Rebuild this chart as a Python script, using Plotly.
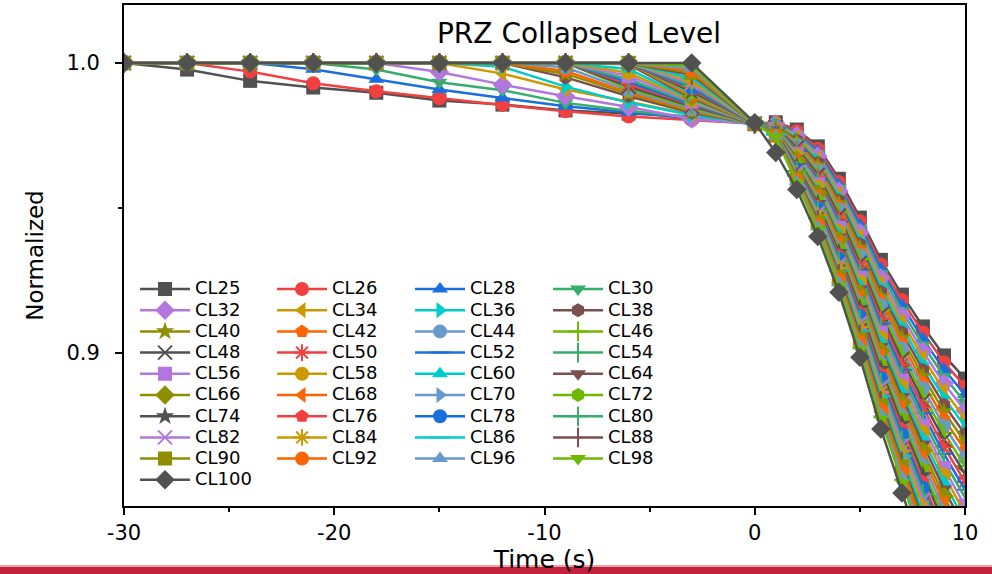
import plotly.graph_objects as go

# Sample times (s): 3 s steps before the event, 1 s steps after it
time_s = [-30, -27, -24, -21, -18, -15, -12, -9, -6, -3, 0, 1, 2, 3, 4, 5, 6, 7, 8, 9, 10]

labels = ["CL25", "CL26", "CL28", "CL30", "CL32", "CL34", "CL36", "CL38", "CL40", "CL42",
          "CL44", "CL46", "CL48", "CL50", "CL52", "CL54", "CL56", "CL58", "CL60", "CL64",
          "CL66", "CL68", "CL70", "CL72", "CL74", "CL76", "CL78", "CL80", "CL82", "CL84",
          "CL86", "CL88", "CL90", "CL92", "CL96", "CL98", "CL100"]

# Normalized collapsed level, one list per case
cl25 = [1.0, 0.9977, 0.9938, 0.9915, 0.9897, 0.9870, 0.9856, 0.9836, 0.9825, 0.9815, 0.9790,
        0.9795, 0.9770, 0.9712, 0.9600, 0.9466, 0.9320, 0.9200, 0.9090, 0.8990, 0.8910]
cl26 = [1.0, 1.0, 0.9970, 0.9930, 0.9902, 0.9878, 0.9855, 0.9833, 0.9815, 0.9803, 0.9790,
        0.9794, 0.9765, 0.9704, 0.9589, 0.9453, 0.9304, 0.9181, 0.9069, 0.8966, 0.8883]
cl28 = [1.0, 1.0, 1.0, 0.9978, 0.9944, 0.9908, 0.9879, 0.9850, 0.9830, 0.9808, 0.9790,
        0.9792, 0.9759, 0.9696, 0.9579, 0.9440, 0.9289, 0.9163, 0.9047, 0.8941, 0.8855]
cl30 = [1.0, 1.0, 1.0, 1.0, 0.9977, 0.9933, 0.9906, 0.9862, 0.9835, 0.9812, 0.9790,
        0.9791, 0.9754, 0.9687, 0.9568, 0.9427, 0.9273, 0.9144, 0.9026, 0.8917, 0.8828]
cl32 = [1.0, 1.0, 1.0, 1.0, 1.0, 0.9969, 0.9925, 0.9885, 0.9848, 0.9806, 0.9790,
        0.9789, 0.9749, 0.9679, 0.9558, 0.9414, 0.9257, 0.9126, 0.9004, 0.8893, 0.8800]
cl34 = [1.0, 1.0, 1.0, 1.0, 1.0, 1.0, 0.9963, 0.9908, 0.9866, 0.9822, 0.9790,
        0.9788, 0.9744, 0.9671, 0.9547, 0.9401, 0.9241, 0.9107, 0.8983, 0.8869, 0.8773]
cl36 = [1.0, 1.0, 1.0, 1.0, 1.0, 1.0, 0.9987, 0.9918, 0.9863, 0.9820, 0.9790,
        0.9786, 0.9738, 0.9663, 0.9537, 0.9388, 0.9226, 0.9089, 0.8961, 0.8844, 0.8745]
cl38 = [1.0, 1.0, 1.0, 1.0, 1.0, 1.0, 1.0, 0.9950, 0.9885, 0.9828, 0.9790,
        0.9785, 0.9733, 0.9655, 0.9526, 0.9375, 0.9210, 0.9070, 0.8940, 0.8820, 0.8718]
cl40 = [1.0, 1.0, 1.0, 1.0, 1.0, 1.0, 1.0, 0.9962, 0.9893, 0.9832, 0.9790,
        0.9784, 0.9728, 0.9646, 0.9515, 0.9362, 0.9194, 0.9051, 0.8919, 0.8796, 0.8691]
cl42 = [1.0, 1.0, 1.0, 1.0, 1.0, 1.0, 1.0, 0.9972, 0.9898, 0.9836, 0.9790,
        0.9782, 0.9722, 0.9638, 0.9505, 0.9349, 0.9179, 0.9033, 0.8897, 0.8771, 0.8663]
cl44 = [1.0, 1.0, 1.0, 1.0, 1.0, 1.0, 1.0, 0.9985, 0.9905, 0.9840, 0.9790,
        0.9781, 0.9717, 0.9630, 0.9494, 0.9336, 0.9163, 0.9014, 0.8876, 0.8747, 0.8636]
cl46 = [1.0, 1.0, 1.0, 1.0, 1.0, 1.0, 1.0, 1.0, 0.9912, 0.9845, 0.9790,
        0.9779, 0.9712, 0.9622, 0.9484, 0.9323, 0.9147, 0.8996, 0.8854, 0.8723, 0.8608]
cl48 = [1.0, 1.0, 1.0, 1.0, 1.0, 1.0, 1.0, 1.0, 0.9918, 0.9850, 0.9790,
        0.9778, 0.9707, 0.9614, 0.9473, 0.9310, 0.9131, 0.8977, 0.8833, 0.8699, 0.8581]
cl50 = [1.0, 1.0, 1.0, 1.0, 1.0, 1.0, 1.0, 1.0, 0.9926, 0.9855, 0.9790,
        0.9776, 0.9701, 0.9605, 0.9463, 0.9297, 0.9116, 0.8959, 0.8811, 0.8674, 0.8553]
cl52 = [1.0, 1.0, 1.0, 1.0, 1.0, 1.0, 1.0, 1.0, 0.9934, 0.9858, 0.9790,
        0.9775, 0.9696, 0.9597, 0.9452, 0.9284, 0.9100, 0.8940, 0.8790, 0.8650, 0.8526]
cl54 = [1.0, 1.0, 1.0, 1.0, 1.0, 1.0, 1.0, 1.0, 0.9943, 0.9862, 0.9790,
        0.9774, 0.9691, 0.9589, 0.9441, 0.9271, 0.9084, 0.8921, 0.8769, 0.8626, 0.8499]
cl56 = [1.0, 1.0, 1.0, 1.0, 1.0, 1.0, 1.0, 1.0, 0.9955, 0.9866, 0.9790,
        0.9772, 0.9685, 0.9581, 0.9431, 0.9258, 0.9069, 0.8903, 0.8747, 0.8601, 0.8471]
cl58 = [1.0, 1.0, 1.0, 1.0, 1.0, 1.0, 1.0, 1.0, 0.9966, 0.9870, 0.9790,
        0.9771, 0.9680, 0.9573, 0.9420, 0.9245, 0.9053, 0.8884, 0.8726, 0.8577, 0.8444]
cl60 = [1.0, 1.0, 1.0, 1.0, 1.0, 1.0, 1.0, 1.0, 0.9979, 0.9874, 0.9790,
        0.9769, 0.9675, 0.9564, 0.9410, 0.9232, 0.9037, 0.8866, 0.8704, 0.8553, 0.8416]
cl64 = [1.0, 1.0, 1.0, 1.0, 1.0, 1.0, 1.0, 1.0, 0.9995, 0.9878, 0.9790,
        0.9768, 0.9670, 0.9556, 0.9399, 0.9219, 0.9021, 0.8847, 0.8683, 0.8529, 0.8389]
cl66 = [1.0, 1.0, 1.0, 1.0, 1.0, 1.0, 1.0, 1.0, 1.0, 0.9882, 0.9790,
        0.9766, 0.9664, 0.9548, 0.9389, 0.9205, 0.9006, 0.8829, 0.8661, 0.8504, 0.8361]
cl68 = [1.0, 1.0, 1.0, 1.0, 1.0, 1.0, 1.0, 1.0, 1.0, 0.9887, 0.9790,
        0.9765, 0.9659, 0.9540, 0.9378, 0.9192, 0.8990, 0.8810, 0.8640, 0.8480, 0.8334]
cl70 = [1.0, 1.0, 1.0, 1.0, 1.0, 1.0, 1.0, 1.0, 1.0, 0.9892, 0.9790,
        0.9764, 0.9654, 0.9532, 0.9367, 0.9179, 0.8974, 0.8791, 0.8619, 0.8456, 0.8307]
cl72 = [1.0, 1.0, 1.0, 1.0, 1.0, 1.0, 1.0, 1.0, 1.0, 0.9897, 0.9790,
        0.9762, 0.9648, 0.9523, 0.9357, 0.9166, 0.8959, 0.8773, 0.8597, 0.8431, 0.8279]
cl74 = [1.0, 1.0, 1.0, 1.0, 1.0, 1.0, 1.0, 1.0, 1.0, 0.9902, 0.9790,
        0.9761, 0.9643, 0.9515, 0.9346, 0.9153, 0.8943, 0.8754, 0.8576, 0.8407, 0.8252]
cl76 = [1.0, 1.0, 1.0, 1.0, 1.0, 1.0, 1.0, 1.0, 1.0, 0.9908, 0.9790,
        0.9759, 0.9638, 0.9507, 0.9336, 0.9140, 0.8927, 0.8736, 0.8554, 0.8383, 0.8224]
cl78 = [1.0, 1.0, 1.0, 1.0, 1.0, 1.0, 1.0, 1.0, 1.0, 0.9914, 0.9790,
        0.9758, 0.9633, 0.9499, 0.9325, 0.9127, 0.8911, 0.8717, 0.8533, 0.8359, 0.8197]
cl80 = [1.0, 1.0, 1.0, 1.0, 1.0, 1.0, 1.0, 1.0, 1.0, 0.9921, 0.9790,
        0.9756, 0.9627, 0.9491, 0.9315, 0.9114, 0.8896, 0.8699, 0.8511, 0.8334, 0.8169]
cl82 = [1.0, 1.0, 1.0, 1.0, 1.0, 1.0, 1.0, 1.0, 1.0, 0.9929, 0.9790,
        0.9755, 0.9622, 0.9482, 0.9304, 0.9101, 0.8880, 0.8680, 0.8490, 0.8310, 0.8142]
cl84 = [1.0, 1.0, 1.0, 1.0, 1.0, 1.0, 1.0, 1.0, 1.0, 0.9937, 0.9790,
        0.9754, 0.9617, 0.9474, 0.9293, 0.9088, 0.8864, 0.8661, 0.8469, 0.8286, 0.8115]
cl86 = [1.0, 1.0, 1.0, 1.0, 1.0, 1.0, 1.0, 1.0, 1.0, 0.9947, 0.9790,
        0.9752, 0.9611, 0.9466, 0.9283, 0.9075, 0.8849, 0.8643, 0.8447, 0.8261, 0.8087]
cl88 = [1.0, 1.0, 1.0, 1.0, 1.0, 1.0, 1.0, 1.0, 1.0, 0.9958, 0.9790,
        0.9751, 0.9606, 0.9458, 0.9272, 0.9062, 0.8833, 0.8624, 0.8426, 0.8237, 0.8060]
cl90 = [1.0, 1.0, 1.0, 1.0, 1.0, 1.0, 1.0, 1.0, 1.0, 0.9966, 0.9790,
        0.9749, 0.9601, 0.9450, 0.9262, 0.9049, 0.8817, 0.8606, 0.8404, 0.8213, 0.8032]
cl92 = [1.0, 1.0, 1.0, 1.0, 1.0, 1.0, 1.0, 1.0, 1.0, 0.9974, 0.9790,
        0.9748, 0.9596, 0.9441, 0.9251, 0.9036, 0.8801, 0.8587, 0.8383, 0.8189, 0.8005]
cl96 = [1.0, 1.0, 1.0, 1.0, 1.0, 1.0, 1.0, 1.0, 1.0, 0.9982, 0.9790,
        0.9746, 0.9590, 0.9433, 0.9241, 0.9023, 0.8786, 0.8569, 0.8361, 0.8164, 0.7977]
cl98 = [1.0, 1.0, 1.0, 1.0, 1.0, 1.0, 1.0, 1.0, 1.0, 0.9990, 0.9790,
        0.9745, 0.9585, 0.9425, 0.9230, 0.9010, 0.8770, 0.8550, 0.8340, 0.8140, 0.7950]
cl100 = [1.0, 1.0, 1.0, 1.0, 1.0, 1.0, 1.0, 1.0, 1.0, 1.0, 0.9793,
         0.9691, 0.9563, 0.9401, 0.9208, 0.8984, 0.8736, 0.8515, 0.8300, 0.8100, 0.7900]

levels = [cl25, cl26, cl28, cl30, cl32, cl34, cl36, cl38, cl40, cl42,
          cl44, cl46, cl48, cl50, cl52, cl54, cl56, cl58, cl60, cl64,
          cl66, cl68, cl70, cl72, cl74, cl76, cl78, cl80, cl82, cl84,
          cl86, cl88, cl90, cl92, cl96, cl98, cl100]

x_ticks = [-30, -20, -10, 0, 10]
x_tick_text = ["-30", "-20", "-10", "0", "10"]
x_minor = [-25, -15, -5, 5]
y_ticks = [0.9, 1.0]
y_minor = [0.95]

# Colour and symbol cycles
palette = ["#515151", "#F14040", "#1A6FDF", "#37AD6B", "#B177DE", "#CC9900",
           "#00CBCC", "#7D4E4E", "#8E8E00", "#FB6501", "#6699CC", "#6FB802"]
symbol_cycle = ["square", "circle", "triangle-up", "triangle-down", "diamond",
                "triangle-left", "triangle-right", "hexagon", "star", "pentagon",
                "circle", "cross-thin", "x-thin", "asterisk", "line-ew", "line-ns"]
thin_symbols = {"cross-thin", "x-thin", "asterisk", "line-ew", "line-ns"}

legend_ids = ["legend", "legend2", "legend3", "legend4"]
legend_x = [0.0131, 0.1760, 0.3401, 0.5042]

fig = go.Figure()
for i, (label, values) in enumerate(zip(labels, levels)):
    color = palette[i % len(palette)]
    symbol = symbol_cycle[i % len(symbol_cycle)]
    thin = symbol in thin_symbols
    size = 15 if symbol == "diamond" else 14
    fig.add_trace(go.Scatter(
        x=time_s, y=values, mode="lines+markers",
        name='<span style="font-size:18px">%s</span>' % label,
        legend=legend_ids[i % 4],
        line=dict(color=color, width=2.5),
        marker=dict(symbol=symbol, size=size, color=color,
                    line=dict(color=color, width=2 if thin else 0)),
    ))

axis_common = dict(
    showline=True, linecolor="black", linewidth=2, mirror=True,
    ticks="outside", ticklen=7, tickwidth=2, tickcolor="black",
    showgrid=False, zeroline=False,
    tickfont=dict(family="DejaVu Sans", size=21, color="black"),
)

fig.update_xaxes(
    range=[-30, 10], tickvals=x_ticks, ticktext=x_tick_text,
    minor=dict(tickvals=x_minor, ticks="outside", ticklen=4, tickwidth=2, tickcolor="black"),
    title=dict(text="Time (s)", font=dict(family="DejaVu Sans", size=25, color="black"), standoff=13),
    **axis_common,
)
fig.update_yaxes(
    range=[0.847, 1.020], tickvals=y_ticks, tickformat=".1f", ticklabelstandoff=11,
    minor=dict(tickvals=y_minor, ticks="outside", ticklen=4, tickwidth=2, tickcolor="black"),
    title=dict(text="Normalized", font=dict(family="DejaVu Sans", size=23, color="black"), standoff=16),
    **axis_common,
)

legend_style = dict(
    y=0.4643, yanchor="top", xanchor="left", orientation="v",
    bgcolor="rgba(0,0,0,0)", borderwidth=0, itemwidth=50, tracegroupgap=0,
    font=dict(family="DejaVu Sans", size=14, color="black"),
)
layout_legends = {lid: dict(x=lx, **legend_style) for lid, lx in zip(legend_ids, legend_x)}

fig.update_layout(
    width=992, height=574,
    margin=dict(l=124, r=27, t=5, b=68, autoexpand=False),
    paper_bgcolor="white", plot_bgcolor="white",
    font=dict(family="DejaVu Sans", color="black"),
    title=dict(text="PRZ Collapsed Level", x=0.541, xref="paper", xanchor="center",
               y=1 - 33 / 574, yref="container", yanchor="middle",
               font=dict(family="DejaVu Sans", size=28, color="black")),
    showlegend=True, hovermode=False,
    shapes=[
        dict(type="rect", xref="paper", yref="paper", x0=-0.2, x1=1.1, y0=-0.1218, y1=-0.1178,
             fillcolor="#E6A3AC", line=dict(width=0), layer="above"),
        dict(type="rect", xref="paper", yref="paper", x0=-0.2, x1=1.1, y0=-0.15, y1=-0.1218,
             fillcolor="#C1213A", line=dict(width=0), layer="above"),
    ],
    **layout_legends,
)

fig.write_html("out.html")
